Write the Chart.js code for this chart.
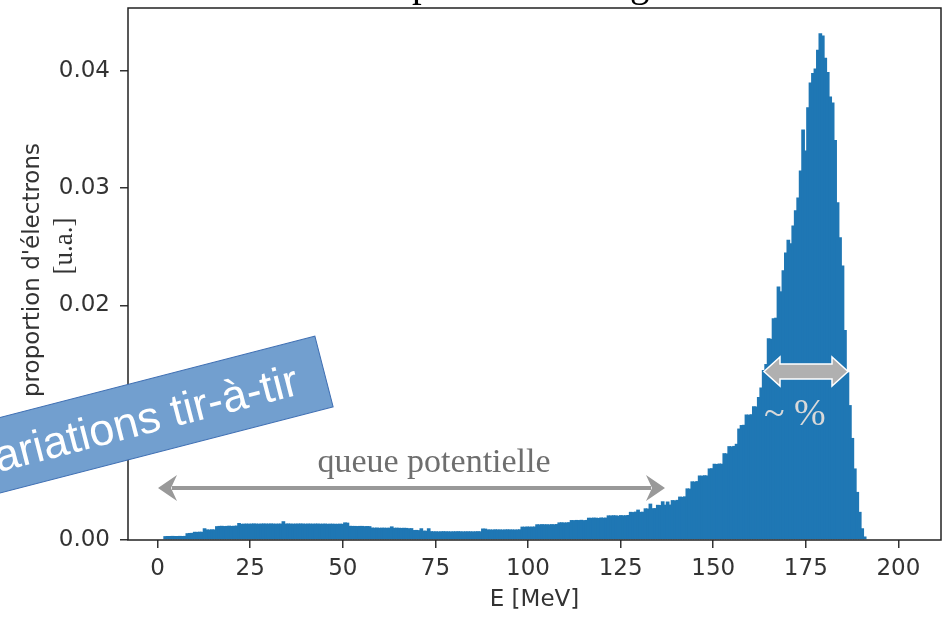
<!DOCTYPE html>
<html>
<head>
<meta charset="utf-8">
<script src="https://cdn.jsdelivr.net/npm/chart.js"></script>
<style>
  html, body { margin: 0; padding: 0; background: #fff; }
  #wrap { width: 944px; height: 621px; }
</style>
</head>
<body>
<div id="wrap"><canvas id="spectrum" width="944" height="621"></canvas></div>
<script>
// histogram bins (MeV)
const binStart = 1.7;
const binWidth = 0.665;
const xTicks = [0, 25, 50, 75, 100, 125, 150, 175, 200];
const yTicks = [0.00, 0.01, 0.02, 0.03, 0.04];

// proportion of electrons per bin
const binValues = [
  0.00033, 0.00034, 0.00034, 0.00035, 0.00034, 0.00034, 0.00035, 0.00034, 0.00035,
  0.00058, 0.00060, 0.00061,
  0.00070, 0.00069, 0.00071, 0.00070,
  0.00100,
  0.00090, 0.00089, 0.00091, 0.00090,
  0.00118, 0.00120, 0.00121, 0.00119, 0.00120, 0.00122, 0.00120, 0.00121, 0.00123,
  0.00145,
  0.00138, 0.00139, 0.00140, 0.00139, 0.00140, 0.00141, 0.00140, 0.00139, 0.00140,
  0.00141, 0.00140, 0.00140, 0.00141, 0.00140, 0.00139, 0.00140, 0.00140,
  0.00160,
  0.00140, 0.00141, 0.00140, 0.00139, 0.00140, 0.00140, 0.00141, 0.00140, 0.00139,
  0.00140, 0.00140, 0.00139, 0.00140, 0.00140, 0.00139, 0.00139, 0.00140, 0.00138,
  0.00139, 0.00139, 0.00138, 0.00138, 0.00139, 0.00138,
  0.00150, 0.00148,
  0.00121, 0.00120, 0.00120, 0.00119, 0.00120, 0.00120, 0.00118, 0.00119, 0.00118,
  0.00106, 0.00105, 0.00106, 0.00104, 0.00105, 0.00105, 0.00104, 0.00105, 0.00116,
  0.00104, 0.00105, 0.00104, 0.00103, 0.00104, 0.00103,
  0.00100, 0.00101,
  0.00085, 0.00086, 0.00084,
  0.00100,
  0.00080, 0.00079,
  0.00100,
  0.00075, 0.00074, 0.00074, 0.00073, 0.00074, 0.00075, 0.00074, 0.00074, 0.00073,
  0.00074, 0.00074, 0.00075, 0.00074, 0.00073, 0.00074, 0.00074, 0.00074, 0.00073,
  0.00074, 0.00075, 0.00074,
  0.00098, 0.00097,
  0.00090, 0.00090, 0.00089, 0.00091, 0.00090, 0.00090, 0.00089, 0.00090, 0.00091,
  0.00090, 0.00090, 0.00089, 0.00090, 0.00091,
  0.00114, 0.00113, 0.00115, 0.00114, 0.00114, 0.00115,
  0.00134, 0.00133, 0.00135, 0.00134, 0.00134, 0.00133, 0.00135, 0.00134, 0.00136,
  0.00150, 0.00151, 0.00149, 0.00150, 0.00152,
  0.00170, 0.00169, 0.00171, 0.00170, 0.00172, 0.00169, 0.00171,
  0.00190, 0.00189, 0.00191, 0.00190, 0.00188, 0.00192, 0.00190, 0.00191,
  0.00210, 0.00209, 0.00211, 0.00210, 0.00207, 0.00212, 0.00210, 0.00211, 0.00213,
  0.00240, 0.00238, 0.00242, 0.00259, 0.00240, 0.00241,
  0.00270, 0.00268, 0.00310, 0.00271, 0.00272,
  0.00300, 0.00298, 0.00330, 0.00301, 0.00328, 0.00302,
  0.00340, 0.00338, 0.00342,
  0.00370, 0.00368, 0.00372,
  0.00440, 0.00438,
  0.00500, 0.00498, 0.00502,
  0.00550, 0.00548, 0.00552, 0.00550,
  0.00610, 0.00612,
  0.00650, 0.00648, 0.00652, 0.00650,
  0.00740, 0.00738,
  0.00800, 0.00798, 0.00802,
  0.00820, 0.00950,
  0.00980, 0.00982,
  0.01070, 0.01068, 0.01072,
  0.01140, 0.01138,
  0.01220, 0.01300, 0.01450, 0.01500,
  0.01720, 0.01715, 0.01890, 0.01895,
  0.02160, 0.02120, 0.02300, 0.02450, 0.02560, 0.02530, 0.02680, 0.02810,
  0.02920, 0.03150, 0.03500, 0.03320, 0.03690, 0.03900, 0.03980, 0.04020,
  0.04180, 0.04320, 0.04300, 0.04110, 0.03990, 0.03780, 0.03730, 0.03410,
  0.02880, 0.02580, 0.02340, 0.01790, 0.01430, 0.01150, 0.00870, 0.00610,
  0.00410, 0.00240, 0.00100, 0.00030
];

const ink = '#333333';
const tickFont = { family: 'DejaVu Sans', size: 23 };

const overlay = {
  id: 'overlay',
  afterDatasetsDraw(chart) {
    const ctx = chart.ctx;
    const a = chart.chartArea;
    ctx.save();
    // frame
    ctx.strokeStyle = '#222';
    ctx.lineWidth = 1.5;
    ctx.strokeRect(a.left, a.top, a.right - a.left, a.bottom - a.top);
    ctx.restore();
  },
  afterDraw(chart) {
    const ctx = chart.ctx;
    ctx.save();

    // title, mostly cut off by the top edge
    ctx.fillStyle = '#000';
    ctx.font = '39px "Liberation Serif"';
    ctx.textAlign = 'center';
    ctx.textBaseline = 'alphabetic';
    ctx.fillText('Spectre en énergie', 534, -4);

    // y axis label (two lines)
    ctx.save();
    ctx.translate(33, 270);
    ctx.rotate(-Math.PI / 2);
    ctx.fillStyle = ink;
    ctx.font = '23px "DejaVu Sans"';
    ctx.textAlign = 'center';
    ctx.textBaseline = 'middle';
    ctx.fillText("proportion d'électrons", 0, 0);
    ctx.restore();
    ctx.save();
    ctx.translate(65, 246);
    ctx.rotate(-Math.PI / 2);
    ctx.fillStyle = ink;
    ctx.font = '27px "Liberation Serif"';
    ctx.textAlign = 'center';
    ctx.textBaseline = 'middle';
    ctx.fillText('[u.a.]', 0, 0);
    ctx.restore();

    // thin grey double arrow + label
    const ay = 488, ax0 = 158, ax1 = 665;
    ctx.strokeStyle = '#999';
    ctx.fillStyle = '#999';
    ctx.lineWidth = 4;
    ctx.beginPath();
    ctx.moveTo(ax0 + 14, ay);
    ctx.lineTo(ax1 - 14, ay);
    ctx.stroke();
    ctx.beginPath();
    ctx.moveTo(ax0, ay);
    ctx.lineTo(ax0 + 19, ay - 13);
    ctx.lineTo(ax0 + 13, ay);
    ctx.lineTo(ax0 + 19, ay + 13);
    ctx.closePath();
    ctx.fill();
    ctx.beginPath();
    ctx.moveTo(ax1, ay);
    ctx.lineTo(ax1 - 19, ay - 13);
    ctx.lineTo(ax1 - 13, ay);
    ctx.lineTo(ax1 - 19, ay + 13);
    ctx.closePath();
    ctx.fill();

    ctx.fillStyle = '#6e6e6e';
    ctx.font = '34px "Liberation Serif"';
    ctx.textAlign = 'center';
    ctx.textBaseline = 'alphabetic';
    ctx.fillText('queue potentielle', 434, 472);

    // fat double arrow at the peak width
    const by = 371.5, bx0 = 764, bx1 = 848;
    ctx.beginPath();
    ctx.moveTo(bx0, by);
    ctx.lineTo(bx0 + 16, by - 14.5);
    ctx.lineTo(bx0 + 16, by - 7.5);
    ctx.lineTo(bx1 - 16, by - 7.5);
    ctx.lineTo(bx1 - 16, by - 14.5);
    ctx.lineTo(bx1, by);
    ctx.lineTo(bx1 - 16, by + 14.5);
    ctx.lineTo(bx1 - 16, by + 7.5);
    ctx.lineTo(bx0 + 16, by + 7.5);
    ctx.lineTo(bx0 + 16, by + 14.5);
    ctx.closePath();
    ctx.fillStyle = '#b0b0b0';
    ctx.fill();
    ctx.strokeStyle = '#fff';
    ctx.lineWidth = 1.5;
    ctx.stroke();

    ctx.fillStyle = '#d9d9d9';
    ctx.font = '38px "Liberation Serif"';
    ctx.textAlign = 'left';
    ctx.fillText('~ %', 764, 425);

    // rotated blue banner
    ctx.save();
    ctx.translate(324, 371.5);
    ctx.rotate(-14.5 * Math.PI / 180);
    ctx.fillStyle = '#729fcf';
    ctx.fillRect(-420, -36.5, 420, 73);
    ctx.strokeStyle = '#3f6fb3';
    ctx.lineWidth = 1;
    ctx.strokeRect(-420, -36.5, 420, 73);
    ctx.fillStyle = '#fff';
    ctx.font = '45px "Liberation Sans"';
    ctx.textAlign = 'right';
    ctx.fillText('Variations tir-à-tir', -28, 16);
    ctx.restore();

    ctx.restore();
  }
};

new Chart(document.getElementById('spectrum'), {
  type: 'bar',
  data: {
    datasets: [{
      data: binValues.map((v, i) => ({ x: binStart + binWidth * (i + 0.5), y: v })),
      backgroundColor: '#1f77b4',
      borderWidth: 0,
      barPercentage: 1.5,
      categoryPercentage: 1
    }]
  },
  options: {
    responsive: false,
    animation: false,
    devicePixelRatio: 1,
    layout: { padding: { top: 8, right: 3, left: 0, bottom: 0 } },
    plugins: { legend: { display: false }, tooltip: { enabled: false }, title: { display: false } },
    scales: {
      x: {
        type: 'linear',
        min: -8,
        max: 211.5,
        offset: false,
        afterFit: s => { s.height = 81; s.paddingLeft = 0; s.paddingRight = 0; },
        afterBuildTicks: s => { s.ticks = xTicks.map(v => ({ value: v })); },
        grid: { offset: false, drawOnChartArea: false, drawTicks: true, tickLength: 8, color: ink, lineWidth: 1.5 },
        border: { display: false },
        ticks: { font: tickFont, color: ink, padding: 7, maxRotation: 0, callback: v => String(v) },
        title: { display: true, text: 'E [MeV]', font: tickFont, color: ink, padding: { top: 0, bottom: 7 } }
      },
      y: {
        min: 0,
        max: 0.04535,
        afterFit: s => { s.width = 128; s.paddingTop = 0; s.paddingBottom = 0; },
        afterBuildTicks: s => { s.ticks = yTicks.map(v => ({ value: v })); },
        grid: { drawOnChartArea: false, drawTicks: true, tickLength: 8, color: ink, lineWidth: 1.5 },
        border: { display: false },
        ticks: { font: tickFont, color: ink, padding: 10, callback: v => v.toFixed(2) }
      }
    }
  },
  plugins: [overlay]
});
</script>
</body>
</html>
